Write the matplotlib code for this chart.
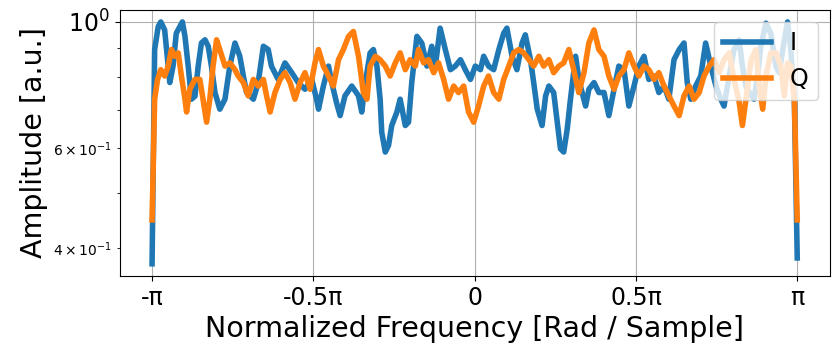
"""Amplitude spectrum of the I and Q branches over one normalized frequency period."""
import matplotlib
import numpy as np

matplotlib.use("Agg")
import matplotlib.pyplot as plt  # noqa: E402

# frequency in units of pi, amplitude
freq_i = [-1.0, -0.992, -0.981, -0.973, -0.961, -0.950, -0.945, -0.935, -0.925, -0.914,
          -0.906, -0.898, -0.888, -0.878, -0.867, -0.857, -0.847, -0.836, -0.826, -0.816,
          -0.805, -0.790, -0.774, -0.759, -0.743, -0.728, -0.717, -0.707, -0.686, -0.671,
          -0.655, -0.640, -0.630, -0.609, -0.588, -0.567, -0.547, -0.526, -0.505, -0.490,
          -0.484, -0.469, -0.453, -0.443, -0.428, -0.417, -0.402, -0.381, -0.360, -0.350,
          -0.339, -0.324, -0.314, -0.303, -0.293, -0.288, -0.277, -0.267, -0.257, -0.241,
          -0.231, -0.215, -0.205, -0.195, -0.179, -0.164, -0.148, -0.133, -0.122, -0.107,
          -0.091, -0.075, -0.060, -0.044, -0.029, -0.013, 0.002, 0.018, 0.028, 0.043,
          0.059, 0.075, 0.090, 0.100, 0.116, 0.131, 0.147, 0.157, 0.173, 0.183,
          0.194, 0.209, 0.220, 0.230, 0.245, 0.256, 0.266, 0.276, 0.287, 0.297,
          0.313, 0.323, 0.333, 0.344, 0.354, 0.370, 0.385, 0.401, 0.416, 0.432,
          0.447, 0.463, 0.478, 0.494, 0.509, 0.525, 0.540, 0.556, 0.571, 0.587,
          0.602, 0.618, 0.634, 0.649, 0.659, 0.670, 0.685, 0.701, 0.716, 0.732,
          0.748, 0.763, 0.773, 0.789, 0.804, 0.820, 0.830, 0.841, 0.851, 0.866,
          0.877, 0.887, 0.903, 0.918, 0.934, 0.944, 0.960, 0.970, 0.980, 0.991, 1.0]
amp_i = [0.375, 0.894, 0.981, 1.000, 0.968, 0.836, 0.782, 0.836, 0.955, 0.981,
         1.000, 0.943, 0.836, 0.731, 0.740, 0.836, 0.918, 0.930, 0.906, 0.836,
         0.751, 0.702, 0.731, 0.836, 0.918, 0.870, 0.803, 0.751, 0.731, 0.782,
         0.906, 0.894, 0.836, 0.792, 0.847, 0.814, 0.782, 0.761, 0.792, 0.731,
         0.702, 0.771, 0.836, 0.782, 0.720, 0.684, 0.741, 0.771, 0.741, 0.694,
         0.782, 0.882, 0.894, 0.836, 0.731, 0.639, 0.590, 0.606, 0.657, 0.694,
         0.731, 0.657, 0.666, 0.782, 0.943, 0.918, 0.836, 0.906, 0.836, 0.975,
         0.894, 0.824, 0.836, 0.858, 0.824, 0.792, 0.836, 0.824, 0.870, 0.836,
         0.824, 0.894, 0.955, 0.975, 0.870, 0.824, 0.918, 0.949, 0.858, 0.782,
         0.702, 0.657, 0.741, 0.771, 0.751, 0.666, 0.598, 0.590, 0.648, 0.731,
         0.870, 0.792, 0.751, 0.711, 0.761, 0.782, 0.751, 0.751, 0.684, 0.761,
         0.836, 0.824, 0.711, 0.771, 0.836, 0.870, 0.792, 0.803, 0.751, 0.771,
         0.731, 0.858, 0.894, 0.918, 0.782, 0.731, 0.771, 0.803, 0.918, 0.836,
         0.771, 0.731, 0.711, 0.803, 0.894, 0.930, 0.836, 0.771, 0.751, 0.731,
         0.803, 0.906, 0.995, 0.955, 0.836, 0.814, 0.930, 1.000, 0.894, 0.731, 0.384]

freq_q = [-1.0, -0.992, -0.983, -0.973, -0.961, -0.950, -0.940, -0.930, -0.919, -0.909,
          -0.898, -0.893, -0.883, -0.867, -0.852, -0.842, -0.831, -0.821, -0.811, -0.800,
          -0.790, -0.774, -0.759, -0.743, -0.733, -0.717, -0.702, -0.686, -0.671, -0.655,
          -0.645, -0.634, -0.619, -0.603, -0.588, -0.572, -0.557, -0.541, -0.526, -0.510,
          -0.495, -0.484, -0.469, -0.453, -0.438, -0.422, -0.407, -0.391, -0.376, -0.360,
          -0.345, -0.334, -0.324, -0.308, -0.293, -0.277, -0.262, -0.246, -0.231, -0.215,
          -0.200, -0.184, -0.174, -0.158, -0.143, -0.127, -0.112, -0.096, -0.081, -0.065,
          -0.050, -0.034, -0.019, -0.003, 0.012, 0.028, 0.043, 0.059, 0.075, 0.090,
          0.106, 0.121, 0.137, 0.152, 0.168, 0.183, 0.199, 0.214, 0.230, 0.245,
          0.261, 0.276, 0.292, 0.307, 0.323, 0.339, 0.354, 0.370, 0.385, 0.401,
          0.416, 0.432, 0.447, 0.463, 0.478, 0.494, 0.509, 0.525, 0.540, 0.556,
          0.571, 0.587, 0.602, 0.618, 0.634, 0.649, 0.665, 0.680, 0.696, 0.711,
          0.727, 0.742, 0.758, 0.773, 0.789, 0.804, 0.820, 0.830, 0.841, 0.857,
          0.872, 0.882, 0.893, 0.903, 0.918, 0.934, 0.949, 0.960, 0.970, 0.980, 0.991, 1.0]
amp_q = [0.448, 0.731, 0.792, 0.824, 0.803, 0.836, 0.894, 0.870, 0.882, 0.803,
         0.731, 0.694, 0.761, 0.792, 0.792, 0.731, 0.666, 0.731, 0.836, 0.930,
         0.894, 0.836, 0.847, 0.824, 0.803, 0.782, 0.741, 0.792, 0.771, 0.792,
         0.741, 0.694, 0.751, 0.792, 0.814, 0.782, 0.731, 0.782, 0.814, 0.761,
         0.847, 0.894, 0.836, 0.803, 0.771, 0.858, 0.894, 0.943, 0.962, 0.870,
         0.751, 0.731, 0.836, 0.870, 0.858, 0.836, 0.803, 0.847, 0.882, 0.824,
         0.858, 0.836, 0.894, 0.847, 0.858, 0.814, 0.847, 0.792, 0.731, 0.771,
         0.751, 0.771, 0.694, 0.666, 0.711, 0.771, 0.803, 0.751, 0.731, 0.792,
         0.836, 0.882, 0.894, 0.882, 0.858, 0.836, 0.870, 0.836, 0.858, 0.814,
         0.836, 0.847, 0.894, 0.824, 0.751, 0.814, 0.918, 0.968, 0.894, 0.870,
         0.803, 0.761, 0.803, 0.824, 0.882, 0.836, 0.803, 0.836, 0.824, 0.792,
         0.814, 0.771, 0.741, 0.711, 0.684, 0.741, 0.771, 0.731, 0.751, 0.803,
         0.836, 0.858, 0.814, 0.858, 0.882, 0.792, 0.722, 0.657, 0.731, 0.858,
         0.894, 0.771, 0.702, 0.803, 0.882, 0.882, 0.836, 0.741, 0.847, 0.836, 0.731, 0.448]

tick_pos = [-1.0, -0.5, 0.0, 0.5, 1.0]
tick_labels = ["-π", "-0.5π", "0", "0.5π", "π"]

fig, ax = plt.subplots(figsize=(8.32, 3.51), dpi=100)
ax.plot(np.array(freq_i) * np.pi, amp_i, lw=4, label="I")
ax.plot(np.array(freq_q) * np.pi, amp_q, lw=4, label="Q")
ax.set_yscale("log")
ax.set_xticks(np.array(tick_pos) * np.pi)
ax.set_xticklabels(tick_labels)
ax.tick_params(axis="both", which="major", labelsize=17)
ax.set_xlabel("Normalized Frequency [Rad / Sample]", fontsize=20.5)
ax.set_ylabel("Amplitude [a.u.]", fontsize=20.5)
ax.grid(True)
ax.legend(loc="upper right", fontsize=17)
fig.subplots_adjust(left=0.144, right=0.997, top=0.972, bottom=0.214)
fig.savefig("out.png", dpi=100)
